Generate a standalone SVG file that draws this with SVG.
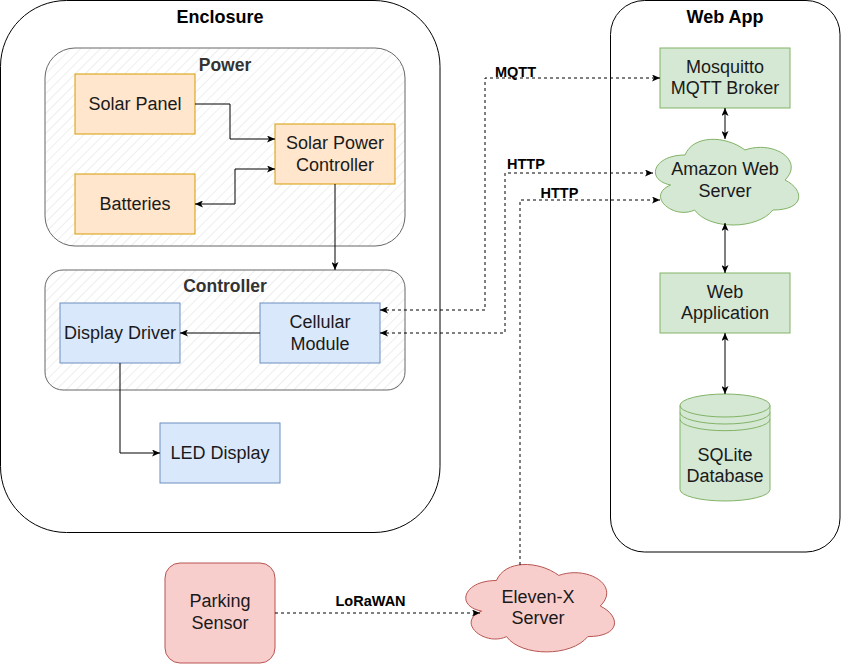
<svg xmlns="http://www.w3.org/2000/svg" width="841" height="664" viewBox="0 0 841 664">
<defs>
  <pattern id="hatch" patternUnits="userSpaceOnUse" width="7" height="7" patternTransform="rotate(45)">
    <rect width="7" height="7" fill="#ffffff"/>
    <line x1="0" y1="0" x2="0" y2="7" stroke="#dedede" stroke-width="1"/>
  </pattern>
  <marker id="arr" viewBox="0 0 8 7" refX="8" refY="3.5" markerWidth="8" markerHeight="7" markerUnits="userSpaceOnUse" orient="auto-start-reverse">
    <path d="M0,0 L8,3.5 L0,7 L2,3.5 Z" fill="#000"/>
  </marker>
</defs>
<style>
  text { font-family: "Liberation Sans", Arial, Helvetica, sans-serif; }
  .title { font-size: 18px; font-weight: bold; fill: #000; text-anchor: middle; }
  .gtitle { font-size: 17.5px; font-weight: bold; fill: #333; text-anchor: middle; }
  .node { font-size: 18px; fill: #1a1a1a; text-anchor: middle; }
  .lbl { font-size: 14.5px; font-weight: bold; fill: #000; }
  .cont { fill: #fff; stroke: #000; stroke-width: 1; }
  .grp { fill: url(#hatch); stroke: #666; stroke-width: 1; }
  .orange { fill: #ffe6cc; stroke: #d79b00; stroke-width: 1; }
  .blue { fill: #dae8fc; stroke: #6c8ebf; stroke-width: 1; }
  .green { fill: #d5e8d4; stroke: #82b366; stroke-width: 1; }
  .red { fill: #f8cecc; stroke: #b85450; stroke-width: 1; }
  .edge { fill: none; stroke: #000; stroke-width: 1; }
  .dash { stroke-dasharray: 3 3; }
</style>

<g id="enclosure">
  <rect class="cont" x="0.5" y="0.5" width="439.5" height="532" rx="66" ry="66"/>
  <text class="title" x="220" y="23.3">Enclosure</text>
</g>
<g id="webapp">
  <rect class="cont" x="610.5" y="0.5" width="229.5" height="551.5" rx="34" ry="34"/>
  <text class="title" x="725" y="23.3">Web App</text>
</g>

<g id="power">
  <rect class="grp" x="45" y="48" width="360" height="198" rx="30" ry="30"/>
  <text class="gtitle" x="225" y="70.7">Power</text>
</g>
<g id="controller">
  <rect class="grp" x="45" y="270" width="360" height="120" rx="18" ry="18"/>
  <text class="gtitle" x="225" y="292.3">Controller</text>
</g>

<g id="solar-panel">
  <rect class="orange" x="75" y="74" width="120" height="60"/>
  <text class="node" x="135" y="110">Solar Panel</text>
</g>
<g id="batteries">
  <rect class="orange" x="75" y="174" width="120" height="60"/>
  <text class="node" x="135" y="210">Batteries</text>
</g>
<g id="solar-power-controller">
  <rect class="orange" x="275" y="124" width="120" height="60"/>
  <text class="node" x="335" y="149.3">Solar Power</text>
  <text class="node" x="335" y="170.7">Controller</text>
</g>
<g id="display-driver">
  <rect class="blue" x="60" y="303" width="120" height="60"/>
  <text class="node" x="120" y="339">Display Driver</text>
</g>
<g id="cellular-module">
  <rect class="blue" x="260" y="303" width="120" height="60"/>
  <text class="node" x="320" y="328">Cellular</text>
  <text class="node" x="320" y="349.5">Module</text>
</g>
<g id="led-display">
  <rect class="blue" x="160" y="423" width="120" height="60"/>
  <text class="node" x="220" y="459">LED Display</text>
</g>

<g id="mosquitto">
  <rect class="green" x="660" y="48" width="130" height="60"/>
  <text class="node" x="725" y="72.7">Mosquitto</text>
  <text class="node" x="725" y="94.3">MQTT Broker</text>
</g>
<g id="amazon-web-server">
  <path class="green" d="M685,155 C653,155 645,180 670.6,185 C645,196 673.8,220 694.6,210 C709,230 757,230 773,210 C805,210 805,190 785,180 C805,160 773,140 745,150 C725,135 693,135 685,155 Z"/>
  <text class="node" x="725" y="175">Amazon Web</text>
  <text class="node" x="725" y="196.5">Server</text>
</g>
<g id="web-application">
  <rect class="green" x="660" y="273" width="130" height="60"/>
  <text class="node" x="725" y="297.7">Web</text>
  <text class="node" x="725" y="319.3">Application</text>
</g>
<g id="sqlite-database">
  <path class="green" d="M680,405.5 a45,11.5 0 0 1 90,0 V489.5 a45,11.5 0 0 1 -90,0 Z"/>
  <path fill="none" stroke="#82b366" stroke-width="1" d="M680,405.5 a45,11.5 0 0 0 90,0 M680,412.5 a45,11.5 0 0 0 90,0 M680,419.2 a45,11.5 0 0 0 90,0"/>
  <text class="node" x="725" y="461">SQLite</text>
  <text class="node" x="725" y="482">Database</text>
</g>

<g id="parking-sensor">
  <rect class="red" x="165" y="563" width="110" height="100" rx="15" ry="15"/>
  <text class="node" x="220" y="607">Parking</text>
  <text class="node" x="220" y="629.3">Sensor</text>
</g>
<g id="eleven-x-server">
  <path class="red" d="M496.5,580.5 C463.3,580.5 455,606 481.6,611.1 C455,622.3 484.9,646.8 506.5,636.6 C521.4,657 571.2,657 587.8,636.6 C621,636.6 621,616.2 600.25,606 C621,585.6 587.8,565.2 558.75,575.4 C538,560.1 504.8,560.1 496.5,580.5 Z"/>
  <text class="node" x="538" y="602.7">Eleven-X</text>
  <text class="node" x="538" y="623.5">Server</text>
</g>

<g id="connectors">
  <path class="edge" d="M195,104 H230 V139 H275" marker-end="url(#arr)"/>
  <path class="edge" d="M195,204 H235 V169 H275" marker-start="url(#arr)" marker-end="url(#arr)"/>
  <path class="edge" d="M335,184 V270" marker-end="url(#arr)"/>
  <path class="edge" d="M260,333 H180" marker-end="url(#arr)"/>
  <path class="edge" d="M120,363 V453 H160" marker-end="url(#arr)"/>
  <path class="edge dash" d="M380,310 H485 V78 H660" marker-start="url(#arr)" marker-end="url(#arr)"/>
  <path class="edge dash" d="M380,333 H505 V173 H653" marker-start="url(#arr)" marker-end="url(#arr)"/>
  <path class="edge dash" d="M520,565 V200 H660" marker-end="url(#arr)"/>
  <path class="edge dash" d="M275,613 H480" marker-end="url(#arr)"/>
  <path class="edge" d="M725,108 V139" marker-start="url(#arr)" marker-end="url(#arr)"/>
  <path class="edge" d="M725,223 V273" marker-start="url(#arr)" marker-end="url(#arr)"/>
  <path class="edge" d="M725,333 V394" marker-start="url(#arr)" marker-end="url(#arr)"/>
  <text class="lbl" x="495" y="76.7">MQTT</text>
  <text class="lbl" x="507" y="169.3">HTTP</text>
  <text class="lbl" x="540.5" y="198.3">HTTP</text>
  <text class="lbl" x="335.5" y="605.7">LoRaWAN</text>
</g>
</svg>
